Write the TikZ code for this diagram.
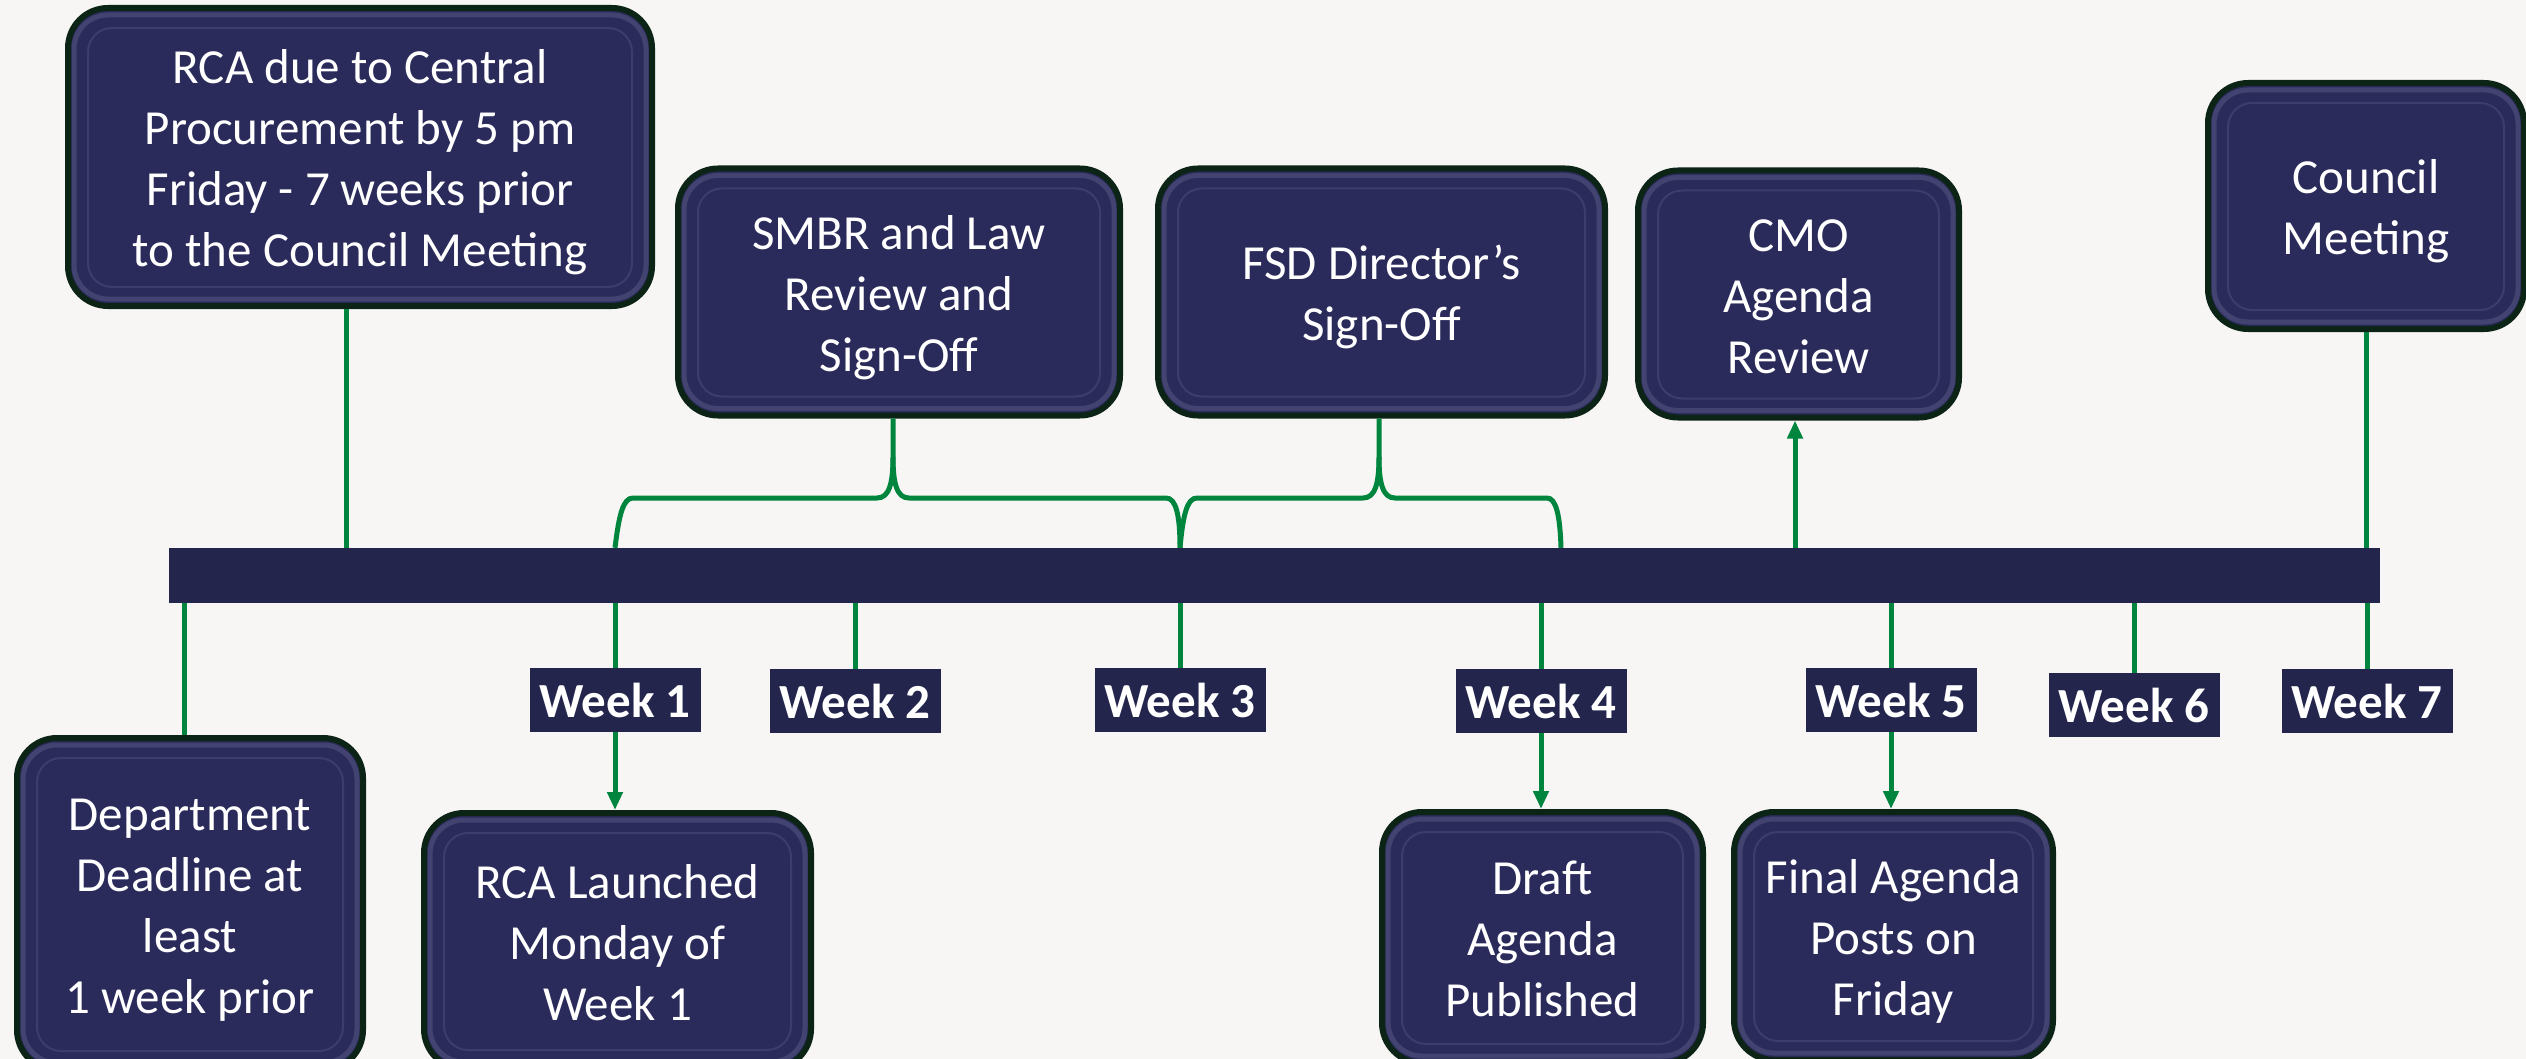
\documentclass[tikz,border=0pt]{standalone}
\usepackage{fontspec}
\setmainfont{Carlito}
\usetikzlibrary{arrows.meta}
\definecolor{bgcol}{RGB}{247,246,244}
\definecolor{boxfill}{RGB}{42,43,90}
\definecolor{barcol}{RGB}{35,37,77}
\definecolor{gcol}{RGB}{0,133,62}
\definecolor{edgecol}{RGB}{12,36,22}
\definecolor{bevelcol}{RGB}{60,61,108}
\definecolor{hicol}{RGB}{66,67,112}
\tikzset{
  evbox/.style={rectangle, rounded corners=40pt, fill=boxfill, draw=edgecol, line width=6pt,
    text=white, align=center, inner sep=0pt, font=\fontsize{49}{61}\selectfont,
    text height=#1, text depth=0pt,
    path picture={
      \draw[hicol, line width=5pt, rounded corners=34pt]
        ([xshift=6pt,yshift=-7pt]path picture bounding box.north west) rectangle
        ([xshift=-6pt,yshift=7pt]path picture bounding box.south east);
      \draw[bevelcol, line width=2pt, rounded corners=24pt]
        ([xshift=20pt,yshift=-20pt]path picture bounding box.north west) rectangle
        ([xshift=-20pt,yshift=19pt]path picture bounding box.south east);}},
  evbox/.default=158pt,
  wklabel/.style={rectangle, fill=barcol, text=white, inner sep=0pt,
    minimum width=171pt, minimum height=64pt, font=\fontsize{49}{60}\selectfont\bfseries},
  gline/.style={draw=gcol, line width=5pt},
  garrow/.style={draw=gcol, line width=5pt, -{Triangle[length=18pt,width=15pt]}}
}
\begin{document}
\begin{tikzpicture}[x=1pt,y=-1pt]
\fill[bgcol] (0,0) rectangle (2526,1059);
\useasboundingbox (0,0) rectangle (2526,1059);
\clip (0,0) rectangle (2526,1059);

% timeline bar
\node[fill=barcol, minimum width=2211pt, minimum height=55pt, inner sep=0pt] (bar) at (1274.5,575.5) {};

% top boxes
\node[evbox=219pt, minimum width=584pt, minimum height=298pt] (rcadue) at (360,157)
  {RCA due to Central\\Procurement by 5 pm\\Friday - 7 weeks prior\\to the Council Meeting};
\node[evbox=158pt, minimum width=442pt, minimum height=247pt] (smbr) at (899,292)
  {SMBR and Law\\Review and\\Sign-Off};
\node[evbox=97pt, minimum width=447pt, minimum height=247pt] (fsd) at (1381.5,292)
  {FSD Director’s\\Sign-Off};
\node[evbox=158pt, minimum width=321pt, minimum height=247pt] (cmo) at (1798.5,294)
  {CMO\\Agenda\\Review};
\node[evbox=97pt, minimum width=316pt, minimum height=246pt] (council) at (2366,206)
  {Council\\Meeting};

% bottom boxes (cut by the lower page edge, as in the reference)
\node[evbox=219pt, minimum width=346pt, minimum height=332pt] (dept) at (190,904)
  {Department\\Deadline at\\least\\1 week prior};
\node[evbox=158pt, minimum width=387pt, minimum height=256pt] (rcal) at (617.5,941)
  {RCA Launched\\Monday of\\Week 1};
\node[evbox=158pt, minimum width=321pt, minimum height=251pt] (draft) at (1542.5,937.5)
  {Draft\\Agenda\\Published};
\node[evbox=158pt, minimum width=319pt, minimum height=248pt] (final) at (1893.5,936)
  {Final Agenda\\Posts on\\Friday};

% week labels
\node[wklabel] (w1) at (615,700) {Week 1};
\node[wklabel] (w2) at (855,701) {Week 2};
\node[wklabel] (w3) at (1180,700) {Week 3};
\node[wklabel] (w4) at (1541,701) {Week 4};
\node[wklabel] (w5) at (1891,700) {Week 5};
\node[wklabel] (w6) at (2134,705) {Week 6};
\node[wklabel] (w7) at (2367,701) {Week 7};

% helper x positions
\coordinate (xr) at (346,0);
\coordinate (xd) at (184,0);
\coordinate (xc) at (1795,0);
\coordinate (xk) at (2366,0);
\coordinate (t1) at (893,0);
\coordinate (t2) at (1379,0);
\coordinate (e2) at (1561,0);

% vertical connectors
\draw[gline] (xr |- rcadue.south) -- (xr |- bar.north);
\draw[gline] (xd |- bar.south) -- (xd |- dept.north);
\foreach \w in {w1,w2,w3,w4,w5,w6,w7}
  \draw[gline] (\w.north |- bar.south) -- (\w.north);
\draw[garrow] (w1.south) -- (w1.south |- rcal.north);
\draw[garrow] (w4.south) -- (w4.south |- draft.north);
\draw[garrow] (w5.south) -- (w5.south |- final.north);
\draw[garrow] (xc |- bar.north) -- (xc |- cmo.south);
\draw[gline] (xk |- council.south) -- (xk |- bar.north);

% braces
\draw[gline] (t1 |- smbr.south) -- (893,457)
  .. controls (893,484) and (889,498) .. (877,498) -- (633,498)
  .. controls (623,498) and (619,515) .. (w1.north |- bar.north);
\draw[gline] (893,457)
  .. controls (893,484) and (897,498) .. (909,498) -- (1166,498)
  .. controls (1176,498) and (1180,515) .. (w3.north |- bar.north);
\draw[gline] (t2 |- fsd.south) -- (1379,457)
  .. controls (1379,484) and (1375,498) .. (1363,498) -- (1197,498)
  .. controls (1187,498) and (1183,515) .. (w3.north |- bar.north);
\draw[gline] (1379,457)
  .. controls (1379,484) and (1383,498) .. (1395,498) -- (1547,498)
  .. controls (1556,498) and (1560,515) .. (e2 |- bar.north);
\end{tikzpicture}
\end{document}
